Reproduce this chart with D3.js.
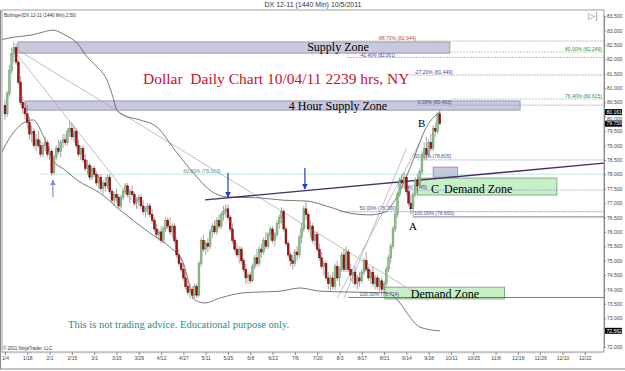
<!DOCTYPE html>
<html><head><meta charset="utf-8">
<script src="https://cdn.jsdelivr.net/npm/d3@7"></script>
<style>body{margin:0;background:#fff}svg{display:block}</style>
</head><body><svg id="c" width="625" height="371"></svg>
<script>
// ---- data ----
const xTickIdx = [0,10,20,30,40,50,60,70,80,90,100,110,120,130,140,150,160,170,180,190,200,210,220,230,240,250,260];
const xTickLabels = ["1/4","1/18","2/1","2/15","3/1","3/15","3/29","4/12","4/27","5/11","5/25","6/8","6/22","7/6","7/20","8/3","8/17","8/31","9/14","9/28","10/11","10/25","11/8","11/18","11/29","12/10","12/22"];
const yTicks = [72,72.5,73,73.5,74,74.5,75,75.5,76,76.5,77,77.5,78,78.5,79,79.5,80,80.5,81,81.5,82,82.5,83,83.5];
const opens = [80.4,80.1,80.8,81.6,82.2,82.4,81.9,81.2,80.5,80.3,80.1,79.8,79.4,79.5,79.0,79.2,79.0,78.7,79.0,79.1,
78.7,78.8,78.05,78.6,78.9,78.8,79.1,79.2,79.1,79.5,79.6,79.3,79.5,79.0,78.7,78.9,78.5,78.2,78.3,77.9,
78.2,78.0,77.7,77.9,77.5,77.7,77.6,77.9,77.4,77.1,77.3,77.2,76.9,77.2,77.4,77.6,77.3,77.4,77.3,77.0,
77.1,77.2,76.9,76.7,76.8,76.9,76.6,76.4,76.1,75.9,76.0,75.7,76.1,76.4,76.2,76.0,76.2,75.7,75.2,74.9,
74.7,74.4,74.1,73.9,74.0,73.8,74.1,73.8,74.9,75.7,75.4,75.6,75.5,76.0,76.2,76.0,76.4,76.2,76.6,76.7,
76.8,76.5,76.1,75.7,75.4,75.2,75.4,75.0,74.7,74.4,74.5,74.3,74.8,75.1,74.9,75.4,75.3,75.7,75.5,75.9,
76.1,75.7,75.9,76.3,76.5,76.7,76.1,75.6,75.2,75.0,74.9,75.3,75.2,75.8,76.1,76.8,76.6,76.1,76.2,75.7,
75.9,75.4,75.1,74.8,74.9,74.4,74.2,74.4,74.1,74.8,74.4,74.7,75.2,74.7,75.3,74.7,74.5,74.6,74.2,74.4,
74.3,74.6,75.0,74.7,74.4,74.6,74.2,74.4,74.1,74.3,74.0,74.2,74.7,75.1,75.5,76.1,76.6,77.3,77.8,77.7,
77.9,77.4,77.0,76.8,77.3,77.8,77.6,78.1,78.7,78.9,78.7,79.1,78.9,79.6,79.5,80.1];
const highs = [80.6,80.9,81.8,82.4,82.6,82.55,82.0,81.4,80.7,80.5,80.4,80.0,79.7,79.6,79.4,79.5,79.2,79.1,79.3,79.2,
79.0,78.9,78.7,79.0,79.2,79.2,79.4,79.4,79.6,79.85,79.8,79.7,79.6,79.2,79.0,79.0,78.7,78.5,78.4,78.3,
78.3,78.1,78.0,78.0,77.8,77.9,78.0,78.0,77.5,77.4,77.5,77.3,77.3,77.5,77.7,77.7,77.5,77.6,77.4,77.2,
77.3,77.3,77.1,76.9,77.0,77.0,76.8,76.5,76.3,76.1,76.2,76.2,76.5,76.5,76.5,76.3,76.3,75.8,75.4,75.1,
74.9,74.6,74.3,74.2,74.1,74.2,74.2,75.0,75.8,75.9,75.7,75.8,76.1,76.3,76.4,76.5,76.6,76.7,76.9,76.95,
76.95,76.6,76.3,75.8,75.6,75.5,75.5,75.1,74.9,74.6,74.6,74.9,75.2,75.4,75.5,75.6,75.8,76.0,76.0,76.2,
76.2,76.0,76.4,76.6,76.85,76.8,76.2,75.7,75.3,75.2,75.4,75.5,75.9,76.3,76.9,77.05,76.7,76.4,76.3,76.0,
76.0,75.6,75.3,75.0,75.0,74.6,74.5,74.6,74.9,75.0,74.8,75.3,75.4,75.5,75.4,74.9,74.7,74.8,74.5,74.6,
74.7,75.1,75.3,74.8,74.7,74.8,74.5,74.5,74.4,74.4,74.3,74.8,75.2,75.6,76.2,76.7,77.4,77.9,78.0,78.05,
78.0,77.6,77.3,77.4,77.9,78.0,78.2,78.8,79.1,79.3,79.2,79.4,79.7,79.8,80.15,80.25];
const lows = [79.9,80.0,80.7,81.5,81.9,81.8,81.1,80.4,80.1,79.9,79.6,79.2,79.1,78.9,78.8,78.9,78.6,78.6,78.8,78.6,
78.5,77.95,78.0,78.5,78.7,78.6,78.9,79.0,79.0,79.3,79.2,79.1,78.9,78.6,78.5,78.4,78.1,78.0,77.8,77.8,
77.9,77.6,77.5,77.4,77.3,77.4,77.5,77.3,77.0,76.9,77.0,76.8,76.8,77.1,77.3,77.2,77.0,77.2,76.9,76.8,
76.9,76.8,76.6,76.5,76.6,76.5,76.3,76.0,75.8,75.7,75.6,75.6,76.0,76.1,75.9,75.8,75.6,75.1,74.8,74.6,
74.3,74.0,73.8,73.7,73.65,73.7,73.7,73.75,74.8,75.3,75.2,75.3,75.4,75.8,75.9,75.9,76.1,76.1,76.4,76.5,
76.4,76.0,75.6,75.3,75.1,74.9,74.9,74.6,74.2,74.2,74.2,74.25,74.7,74.8,74.8,75.1,75.2,75.4,75.4,75.7,
75.6,75.5,75.8,76.1,76.3,76.0,75.5,75.1,74.8,74.7,74.8,75.0,75.1,75.6,76.0,76.4,76.0,75.8,75.6,75.5,
75.3,75.0,74.7,74.5,74.3,74.0,73.95,74.0,74.0,74.3,74.1,74.6,74.6,74.6,74.6,74.3,74.2,74.1,74.0,74.1,
74.2,74.5,74.6,74.3,74.2,74.1,74.0,74.0,73.9,73.9,73.85,74.1,74.6,74.9,75.4,76.0,76.5,77.2,77.5,77.5,
77.3,76.9,76.6,76.55,77.2,77.4,77.5,78.0,78.5,78.5,78.6,78.8,78.8,79.3,79.4,79.7];
const closes = [80.1,80.8,81.6,82.2,82.4,81.9,81.2,80.5,80.3,80.1,79.8,79.4,79.5,79.0,79.2,79.0,78.7,79.0,79.1,78.7,
78.8,78.05,78.6,78.9,78.8,79.1,79.2,79.1,79.5,79.6,79.3,79.5,79.0,78.7,78.9,78.5,78.2,78.3,77.9,78.2,
78.0,77.7,77.9,77.5,77.7,77.6,77.9,77.4,77.1,77.3,77.2,76.9,77.2,77.4,77.6,77.3,77.4,77.3,77.0,77.1,
77.2,76.9,76.7,76.8,76.9,76.6,76.4,76.1,75.9,76.0,75.7,76.1,76.4,76.2,76.0,76.2,75.7,75.2,74.9,74.7,
74.4,74.1,73.9,74.0,73.8,74.1,73.8,74.9,75.7,75.4,75.6,75.5,76.0,76.2,76.0,76.4,76.2,76.6,76.7,76.8,
76.5,76.1,75.7,75.4,75.2,75.4,75.0,74.7,74.4,74.5,74.3,74.8,75.1,74.9,75.4,75.3,75.7,75.5,75.9,76.1,
75.7,75.9,76.3,76.5,76.7,76.1,75.6,75.2,75.0,74.9,75.3,75.2,75.8,76.1,76.8,76.6,76.1,76.2,75.7,75.9,
75.4,75.1,74.8,74.9,74.4,74.2,74.4,74.1,74.8,74.4,74.7,75.2,74.7,75.3,74.7,74.5,74.6,74.2,74.4,74.3,
74.6,75.0,74.7,74.4,74.6,74.2,74.4,74.1,74.3,74.0,74.2,74.7,75.1,75.5,76.1,76.6,77.3,77.8,77.7,77.9,
77.4,77.0,76.8,77.3,77.8,77.6,78.1,78.7,78.9,78.7,79.1,78.9,79.6,79.5,80.1,79.76];
// Bollinger (2,50): bar index, upper, lower
const bbIdx   = [-2.2,4.5,12.1,17,21.5,26.9,32.3,36.8,41.3,45.7,48.4,50.2,52.9,60.5,68.2,76.2,85.2,91.9,100,114.3,124.7,135.4,145.7,154.7,163.7,170.4,174.9,179.4,183.9,188.3,195];
const bbUpper = [82.67,82.77,82.84,82.94,83.01,82.84,82.56,82.08,81.73,81.28,80.69,80.23,80.06,79.89,79.64,78.84,77.98,77.45,77.21,77.18,77.1,77.07,76.86,76.65,76.59,76.69,77.1,77.8,78.67,79.54,80.161];
const bbLowIdx = [-2.2,3.6,9,12.6,17,21.5,26.9,32.3,42.6,51.6,65,74,79.8,85.2,89.7,96.4,106.7,114.3,123.3,132.3,141.3,153.4,171.3,177.1,181.6,186.1,195];
const bbLower  = [78.67,79.43,79.82,79.89,79.37,78.5,78.15,77.8,77.35,76.76,75.96,75.47,74.95,73.63,73.53,73.7,73.88,73.91,73.94,74.05,73.94,73.91,73.88,73.53,73.04,72.69,72.56];
// fibonacci / level lines
const levelStart = [147,153.3,200,182,200,185,16,185,180,150,183,154];
const levelLabelIdx = [167,159,null,183.5,null,185,80,183.5,179,159,183.5,159];
const levelPrice = [82.63,82.061,82.249,81.449,80.615,80.403,78.003,78.5,77.45,76.7,76.52,73.72];
const levelLabel = ["-88.70% (82.944)","-41.40% (82.061)","80.00% (82.249)","-27.20% (81.449)","76.40% (80.615)","0.00% (80.403)","60.00% (78.003)","50.00% (78.805)","0%(77.45)","50.00% (76.700)","100.00% (76.600)","100.00% (73.724)"];
const levelColor = ["#d49a9a","#a0a0c8","#9ac49a","#a0a0c8","#9ac49a","#a0a0c8","#8fd0d0","#a0a0b8","#a0a0b8","#8888a8","#555577","#555577"];
const labelColor = ["#b05050","#4a4a9a","#3a8a3a","#4a4a9a","#3a8a3a","#4a4a9a","#3a9a9a","#4a4a9a","#4a4a9a","#4a4a9a","#4a4a9a","#4a4a9a"];
const zoneNames = ["Supply Zone","4 Hour Supply Zone","","Demand Zone","Demand Zone"];
const zoneIdx0 = [5.8,9,192,185,170.4];
const zoneIdx1 = [199.5,231,203,247.5,224];
const zoneTop = [82.60,80.55,78.25,77.87,74.08];
const zoneBot = [82.21,80.23,77.9,77.28,73.67];
const axisMarks = [80.161,79.759,72.562];

// ---- scales ----
const svg = d3.select("#c");
const W=625,H=371, L=2, R=604, T=10, B=352;
const x = d3.scaleLinear().domain([-2,268]).range([0.5,602.6]);
const y = d3.scaleLinear().domain([72,83.5]).range([347,16]);
const bars = d3.range(closes.length).map(i=>({i,o:opens[i],h:highs[i],l:lows[i],c:closes[i]}));
const sans = "Liberation Sans, Arial, sans-serif";
const serif = "Liberation Serif, Times New Roman, serif";

svg.append("rect").attr("width",W).attr("height",H).attr("fill","#fff");
svg.append("text").attr("x",313).attr("y",7).attr("text-anchor","middle")
  .attr("font-family",sans).attr("font-size",7).attr("fill","#333")
  .text("DX 12-11 (1440 Min)  10/5/2011");
const defs = svg.append("defs");
defs.append("clipPath").attr("id","pc").append("rect")
  .attr("x",L).attr("y",T).attr("width",R-L).attr("height",B-T);
const g = svg.append("g").attr("clip-path","url(#pc)");

// zones (boxes)
const zoneFill = ["#c9c9dd","#c9c9dd","#c9c9dd","#c8f0c8","#c8f0c8"];
const zoneStroke = ["#8a8aa8","#8a8aa8","#8a8aa8","#6a9a6a","#6a9a6a"];
zoneNames.forEach((n,k)=>{
  g.append("rect").attr("x",x(zoneIdx0[k])).attr("y",y(zoneTop[k]))
   .attr("width",x(zoneIdx1[k])-x(zoneIdx0[k])).attr("height",y(zoneBot[k])-y(zoneTop[k]))
   .attr("fill",zoneFill[k]).attr("stroke",zoneStroke[k]).attr("stroke-width",0.8);
});

// level lines
levelPrice.forEach((p,k)=>{
  g.append("line").attr("x1",x(levelStart[k])).attr("x2",R).attr("y1",y(p)).attr("y2",y(p))
   .attr("stroke",levelColor[k]).attr("stroke-width",0.8).attr("stroke-dasharray",k>=10?null:"2,1");
  const t = g.append("text").attr("y",y(p)-(k==1?0.6:1.5))
   .attr("font-family",sans).attr("font-size",k==1?4.6:5).attr("fill",labelColor[k]).text(levelLabel[k]);
  if(levelLabelIdx[k]===null) t.attr("x",R-2).attr("text-anchor","end");
  else t.attr("x",x(levelLabelIdx[k]));
});

// trend lines (bar index, price)
const trendLines = [[[4,82.4],[190,73.6]],[[3.5,82.35],[60,76.8]],[[149,73.7],[186,79.1]],[[152,73.7],[180,78.9]]];
trendLines.forEach(t=>{
  g.append("line").attr("x1",x(t[0][0])).attr("y1",y(t[0][1])).attr("x2",x(t[1][0])).attr("y2",y(t[1][1]))
   .attr("stroke","#b0b0b0").attr("stroke-width",0.8);
});

// Bollinger
const line = d3.line().x(d=>x(d[0])).y(d=>y(d[1])).curve(d3.curveMonotoneX);
g.append("path").attr("d",line(bbIdx.map((v,i)=>[v,bbUpper[i]]))).attr("fill","none").attr("stroke","#555").attr("stroke-width",0.8);
g.append("path").attr("d",line(bbLowIdx.map((v,i)=>[v,bbLower[i]]))).attr("fill","none").attr("stroke","#555").attr("stroke-width",0.8);

// purple trendline
g.append("line").attr("x1",x(89.7)).attr("y1",y(77.11)).attr("x2",x(268.6)).attr("y2",y(78.39))
  .attr("stroke","#4b2a6e").attr("stroke-width",1.4);

// candles
const cg = g.append("g");
cg.selectAll("line.w").data(bars).join("line").attr("x1",d=>x(d.i)).attr("x2",d=>x(d.i))
  .attr("y1",d=>y(d.h)).attr("y2",d=>y(d.l)).attr("stroke","#666").attr("stroke-width",0.6);
cg.selectAll("rect.b").data(bars).join("rect")
  .attr("x",d=>x(d.i)-0.9).attr("width",1.8)
  .attr("y",d=>y(Math.max(d.o,d.c))).attr("height",d=>Math.max(0.6,Math.abs(y(d.o)-y(d.c))))
  .attr("fill",d=>d.c>=d.o?"#8fc08f":"#a01414").attr("stroke",d=>d.c>=d.o?"#6a9a6a":"#700").attr("stroke-width",0.5);

// arrows
const arrows = [[21.5,77.2,77.8],[100,78.05,77.21],[134.5,78.22,77.49]];
defs.append("marker").attr("id","ah").attr("viewBox","0 0 10 10").attr("refX",9).attr("refY",5)
  .attr("markerWidth",5).attr("markerHeight",5).attr("orient","auto")
  .append("path").attr("d","M0,0L10,5L0,10z").attr("fill","context-stroke");
arrows.forEach(a=>{
  g.append("line").attr("x1",x(a[0])).attr("x2",x(a[0])).attr("y1",y(a[1])).attr("y2",y(a[2]))
   .attr("stroke",a[0]<50?"#7b8fd8":"#1f3fbf").attr("stroke-width",1.2).attr("marker-end","url(#ah)");
});

// texts
svg.append("text").attr("x",338).attr("y",51).attr("text-anchor","middle").attr("font-family",serif).attr("font-size",12).text("Supply Zone");
svg.append("text").attr("x",338).attr("y",110).attr("text-anchor","middle").attr("font-family",serif).attr("font-size",12).text("4 Hour Supply Zone");
svg.append("text").attr("x",143).attr("y",84).attr("font-family",serif).attr("font-size",15.5).attr("fill","#c8102e").attr("xml:space","preserve").text("Dollar  Daily Chart 10/04/11 2239 hrs, NY");
svg.append("text").attr("x",444).attr("y",193).attr("font-family",serif).attr("font-size",12).text("Demand Zone");
svg.append("text").attr("x",431).attr("y",193).attr("font-family",serif).attr("font-size",12).text("C");
svg.append("text").attr("x",445).attr("y",298).attr("text-anchor","middle").attr("font-family",serif).attr("font-size",12).text("Demand Zone");
svg.append("text").attr("x",418).attr("y",127).attr("font-family",serif).attr("font-size",11).text("B");
svg.append("text").attr("x",409).attr("y",230).attr("font-family",serif).attr("font-size",11).text("A");
svg.append("text").attr("x",68).attr("y",328).attr("font-family",serif).attr("font-size",10.5).attr("fill","#1a9090").text("This is not trading advice. Educational purpose only.");
svg.append("text").attr("x",4).attr("y",17).attr("font-family",sans).attr("font-size",4.5).attr("fill","#333").text("Bollinger(DX 12-11 (1440 Min),2,50)");
svg.append("text").attr("x",3).attr("y",350).attr("font-family",sans).attr("font-size",4.5).attr("fill","#333").text("© 2011 NinjaTrader, LLC");

// frame
svg.append("rect").attr("x",L).attr("y",T).attr("width",R-L).attr("height",B-T).attr("fill","none").attr("stroke","#888").attr("stroke-width",0.8);
svg.append("line").attr("x1",0).attr("x2",625).attr("y1",369).attr("y2",369).attr("stroke","#888");
svg.append("line").attr("x1",0.5).attr("x2",0.5).attr("y1",10).attr("y2",369).attr("stroke","#888");

// y axis
const ya = svg.append("g").attr("transform",`translate(${R},0)`)
  .call(d3.axisRight(y).tickValues(yTicks).tickFormat(d3.format(".3f")).tickSize(2).tickPadding(1));
ya.select(".domain").attr("stroke","#888");
ya.selectAll("line").attr("stroke","#888");
ya.selectAll("text").attr("font-size",5).attr("fill","#444").attr("font-family",sans)
  .style("display",d=>axisMarks.some(v=>Math.abs(y(v)-y(d))<3)?"none":null)
  .attr("dy",d=>{const m=axisMarks.find(v=>Math.abs(y(v)-y(d))<6.5);
     if(m===undefined) return "0.32em"; const dd=y(d)-y(m); return (0.32*5 + (dd>0?6.5-dd:-(6.5+dd)))+"px";});
axisMarks.forEach(v=>{
  const gg = svg.append("g").attr("transform",`translate(${R+1},${y(v)})`);
  gg.append("rect").attr("x",0).attr("y",-3).attr("width",17).attr("height",6).attr("fill","#000");
  gg.append("text").attr("x",1.5).attr("y",1.8).attr("font-size",5).attr("fill","#fff").attr("font-family",sans).text(d3.format(".3f")(v));
});
// x axis
const xa = svg.append("g").attr("transform",`translate(0,${B})`)
  .call(d3.axisBottom(x).tickValues(xTickIdx).tickFormat((d,i)=>xTickLabels[i]).tickSize(3).tickPadding(1));
xa.select(".domain").remove();
xa.selectAll("text").attr("font-size",5).attr("fill","#444").attr("font-family",sans);
xa.selectAll("line").attr("stroke","#888");
svg.append("g").selectAll("line").data(d3.range(-2,268)).join("line")
  .attr("x1",d=>x(d)).attr("x2",d=>x(d)).attr("y1",B).attr("y2",B+1.5).attr("stroke","#999").attr("stroke-width",0.5);
// play icon
svg.append("text").attr("x",588).attr("y",19).attr("font-size",9).attr("fill","#888").attr("font-family","DejaVu Sans").text("▷|");
</script></body></html>
